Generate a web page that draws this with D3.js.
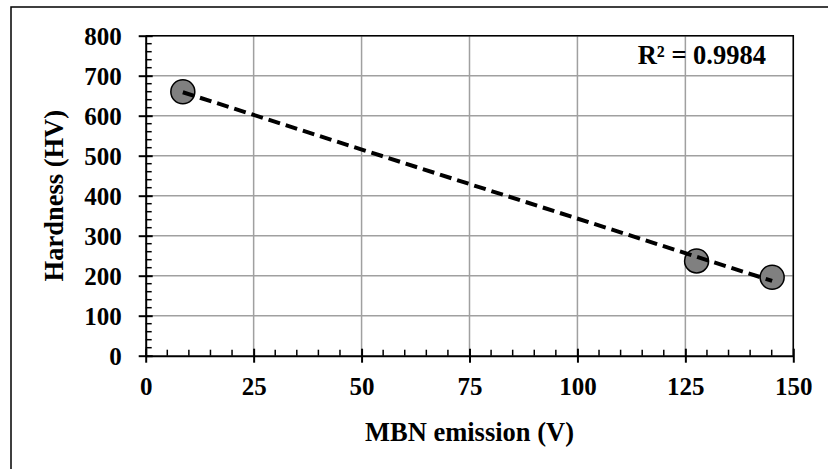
<!DOCTYPE html>
<html lang="en">
<head>
	<meta charset="UTF-8">
	<title>Hardness vs MBN emission</title>
	<script src="https://d3js.org/d3.v7.min.js"></script>
	<style>
		body { margin: 0; background: #fff; }
		text { font-family: 'Liberation Serif', 'Times New Roman', serif; font-weight: bold; fill: #000; }
	</style>
</head>
<body>
	<div class="box"></div>

	<script type="text/javascript">
		let mbn = [8.6, 127.6, 145.1]
		let hardness = [660, 237, 196]
		let xTicks = [0, 25, 50, 75, 100, 125, 150]
		let yTicks = [0, 100, 200, 300, 400, 500, 600, 700, 800]
		let r2Label = 'R² = 0.9984'

		let width = 828
		let height = 469
		let plot = { left: 145.7, top: 35.7, right: 793.3, bottom: 355.7 }

		let svg = d3.select('.box').append('svg').attr('width', width).attr('height', height)

		// outer frame (runs off the right and bottom edge)
		svg.append('rect')
			.attr('x', 11).attr('y', 7)
			.attr('width', 830).attr('height', 480)
			.attr('fill', 'none').attr('stroke', '#000').attr('stroke-width', 1.5)

		let x = d3.scaleLinear().domain([0, 150]).range([plot.left, plot.right])
		let y = d3.scaleLinear().domain([0, 800]).range([plot.bottom, plot.top])

		// grid
		svg.append('g').selectAll('line').data(xTicks.slice(1))
			.enter().append('line')
			.attr('x1', d => x(d)).attr('x2', d => x(d))
			.attr('y1', plot.top).attr('y2', plot.bottom)
			.attr('stroke', '#a0a0a0').attr('stroke-width', 1.5)
		svg.append('g').selectAll('line').data(yTicks.slice(1))
			.enter().append('line')
			.attr('x1', plot.left).attr('x2', plot.right)
			.attr('y1', d => y(d)).attr('y2', d => y(d))
			.attr('stroke', '#a0a0a0').attr('stroke-width', 1.5)

		// top and right border of plot area
		svg.append('path')
			.attr('d', `M${plot.left},${plot.top}H${plot.right}V${plot.bottom}`)
			.attr('fill', 'none').attr('stroke', '#000').attr('stroke-width', 1.5)

		// minor ticks (inside)
		let xMinor = d3.range(0, 151, 5).filter(d => d % 25 !== 0)
		let yMinor = d3.range(0, 801, 20).filter(d => d % 100 !== 0)
		svg.append('g').selectAll('line').data(xMinor)
			.enter().append('line')
			.attr('x1', d => x(d)).attr('x2', d => x(d))
			.attr('y1', plot.bottom).attr('y2', plot.bottom - 6)
			.attr('stroke', '#000').attr('stroke-width', 1.5)
		svg.append('g').selectAll('line').data(yMinor)
			.enter().append('line')
			.attr('x1', plot.left).attr('x2', plot.left + 6)
			.attr('y1', d => y(d)).attr('y2', d => y(d))
			.attr('stroke', '#000').attr('stroke-width', 1.5)

		// axes with major ticks crossing
		let xAxis = d3.axisBottom(x).tickValues(xTicks).tickSizeInner(7).tickSizeOuter(0).tickPadding(15)
		let gx = svg.append('g').attr('transform', `translate(0,${plot.bottom})`).call(xAxis)
		gx.select('.domain').attr('stroke-width', 2)
		gx.selectAll('.tick line').attr('y1', -7).attr('stroke-width', 2)
		gx.selectAll('.tick text').attr('font-size', 25).attr('font-family', null)

		let yAxis = d3.axisLeft(y).tickValues(yTicks).tickSizeInner(7).tickSizeOuter(0).tickPadding(17)
		let gy = svg.append('g').attr('transform', `translate(${plot.left},0)`).call(yAxis)
		gy.select('.domain').attr('stroke-width', 2)
		gy.selectAll('.tick line').attr('x1', 7).attr('stroke-width', 2)
		gy.selectAll('.tick text').attr('font-size', 25).attr('font-family', null).attr('dy', '0.34em')

		// points
		let pts = mbn.map((d, i) => [d, hardness[i]])
		svg.append('g').selectAll('circle').data(pts)
			.enter().append('circle')
			.attr('cx', d => x(d[0])).attr('cy', d => y(d[1]))
			.attr('r', 12)
			.attr('fill', '#808080').attr('stroke', '#000').attr('stroke-width', 1.5)

		// linear trendline (least squares)
		let mx = d3.mean(mbn), my = d3.mean(hardness)
		let slope = d3.sum(pts, d => (d[0] - mx) * (d[1] - my)) / d3.sum(pts, d => (d[0] - mx) ** 2)
		let icpt = my - slope * mx
		let x0 = d3.min(mbn), x1 = d3.max(mbn)
		svg.append('line')
			.attr('x1', x(x0)).attr('y1', y(icpt + slope * x0))
			.attr('x2', x(x1)).attr('y2', y(icpt + slope * x1))
			.attr('stroke', '#000').attr('stroke-width', 4)
			.attr('stroke-dasharray', '12,6')

		// R² label
		svg.append('text')
			.attr('x', 766).attr('y', 64)
			.attr('text-anchor', 'end').attr('font-size', 26.5)
			.text(r2Label)

		// axis titles
		svg.append('text')
			.attr('x', (plot.left + plot.right) / 2).attr('y', 441)
			.attr('text-anchor', 'middle').attr('font-size', 26.5)
			.text('MBN emission (V)')
		svg.append('text')
			.attr('transform', `translate(63,${(plot.top + plot.bottom) / 2}) rotate(-90)`)
			.attr('text-anchor', 'middle').attr('font-size', 26.5)
			.text('Hardness (HV)')
	</script>
</body>
</html>
